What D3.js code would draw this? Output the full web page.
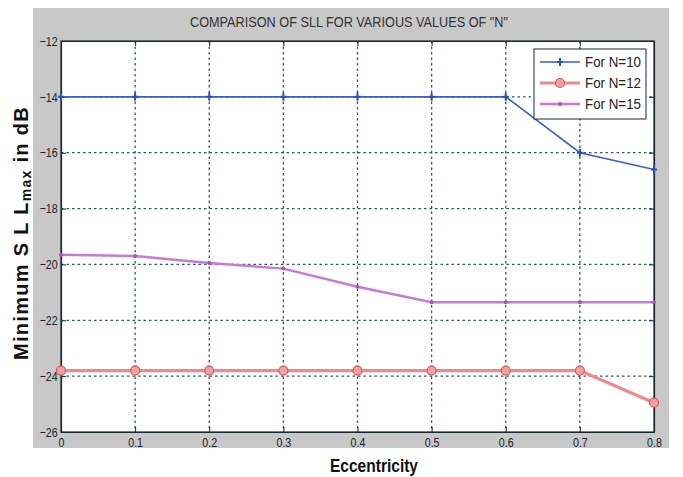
<!DOCTYPE html>
<html>
<head>
<meta charset="utf-8">
<script src="https://cdn.jsdelivr.net/npm/d3@7"></script>
<style>
  html, body { margin: 0; padding: 0; background: #fff; }
  svg { display: block; }
  .narrow { font-family: "Liberation Sans", Arial, sans-serif; }
</style>
</head>
<body>
<svg id="chart" width="683" height="477"></svg>
<script>
// Eccentricity values along the x axis
const eccentricity = [0, 0.1, 0.2, 0.3, 0.4, 0.5, 0.6, 0.7, 0.8];
// Minimum SLL_max (dB) for each array size
const sllN10 = [-14, -14, -14, -14, -14, -14, -14, -16, -16.6];
const sllN12 = [-23.8, -23.8, -23.8, -23.8, -23.8, -23.8, -23.8, -23.8, -24.95];
const sllN15 = [-19.65, -19.7, -19.95, -20.15, -20.8, -21.35, -21.35, -21.35, -21.35];
// Tick labels
const xTicks = [0, 0.1, 0.2, 0.3, 0.4, 0.5, 0.6, 0.7, 0.8];
const yTicks = [-12, -14, -16, -18, -20, -22, -24, -26];
const legendLabels = ["For N=10", "For N=12", "For N=15"];

const svg = d3.select("#chart");

// grey figure panel
svg.append("rect").attr("x", 33).attr("y", 8).attr("width", 636).attr("height", 440).attr("fill", "#c8c8c8");

const plotL = 61, plotR = 654, plotT = 41, plotB = 432;
const x = d3.scaleLinear().domain([0, 0.8]).range([plotL, plotR]);
const y = d3.scaleLinear().domain([-26, -12]).range([plotB, plotT]);

// white plot area
svg.append("rect").attr("x", plotL).attr("y", plotT).attr("width", plotR - plotL).attr("height", plotB - plotT).attr("fill", "#fff");

// dotted grid
const grid = svg.append("g").attr("stroke", "#2d5966").attr("stroke-width", 1.3).attr("stroke-dasharray", "2.5,3");
grid.selectAll(".gx").data(xTicks.slice(1, -1)).join("line")
  .attr("x1", d => x(d)).attr("x2", d => x(d)).attr("y1", plotT).attr("y2", plotB);
grid.selectAll(".gy").data(yTicks.slice(1, -1)).join("line")
  .attr("x1", plotL).attr("x2", plotR).attr("y1", d => y(d)).attr("y2", d => y(d));

// axes with inward ticks
const fmtX = d => d === 0 ? "0" : d3.format(".1f")(d);
const xAxisB = svg.append("g").attr("transform", `translate(0,${plotB})`)
  .call(d3.axisBottom(x).tickValues(xTicks).tickFormat(fmtX).tickSizeInner(-5).tickSizeOuter(0).tickPadding(6));
const xAxisT = svg.append("g").attr("transform", `translate(0,${plotT})`)
  .call(d3.axisTop(x).tickValues(xTicks).tickFormat("").tickSizeInner(-5).tickSizeOuter(0));
const yAxisL = svg.append("g").attr("transform", `translate(${plotL},0)`)
  .call(d3.axisLeft(y).tickValues(yTicks).tickSizeInner(-5).tickSizeOuter(0).tickPadding(4));
const yAxisR = svg.append("g").attr("transform", `translate(${plotR},0)`)
  .call(d3.axisRight(y).tickValues(yTicks).tickFormat("").tickSizeInner(-5).tickSizeOuter(0));
[xAxisB, xAxisT, yAxisL, yAxisR].forEach(a => {
  a.selectAll("path").attr("stroke", "#1a2a30").attr("stroke-width", 1.2);
  a.selectAll("line").attr("stroke", "#1a2a30");
  a.selectAll("text").attr("class", "narrow").attr("font-size", 13).attr("fill", "#222");
});
// condensed tick lettering
xAxisB.selectAll("text").attr("transform", "scale(0.82,1)");
yAxisL.selectAll("text").attr("transform", "scale(0.82,1)");

// plot border
svg.append("rect").attr("x", plotL).attr("y", plotT).attr("width", plotR - plotL).attr("height", plotB - plotT)
  .attr("fill", "none").attr("stroke", "#1a2a30").attr("stroke-width", 1.2);

const line = d3.line().x(d => x(d[0])).y(d => y(d[1]));
const series = [
  { name: legendLabels[0], values: sllN10, color: "#3a5fcd", width: 1.7, marker: "plus" },
  { name: legendLabels[1], values: sllN12, color: "#f08a8a", width: 3.2, marker: "circle" },
  { name: legendLabels[2], values: sllN15, color: "#c878d8", width: 2.5, marker: "dot" }
];

function drawMarker(g, kind, cx, cy) {
  if (kind === "plus") {
    g.append("path").attr("d", `M${cx - 3},${cy}H${cx + 3}M${cx},${cy - 4}V${cy + 4}`)
      .attr("stroke", "#2a4fc0").attr("stroke-width", 2);
  } else if (kind === "circle") {
    g.append("circle").attr("cx", cx).attr("cy", cy).attr("r", 4.5)
      .attr("fill", "#f4a0a0").attr("stroke", "#d85a5a").attr("stroke-width", 1.2);
  } else {
    g.append("circle").attr("cx", cx).attr("cy", cy).attr("r", 2).attr("fill", "#b050c0");
  }
}

series.forEach(s => {
  const pts = eccentricity.map((e, i) => [e, s.values[i]]);
  svg.append("path").datum(pts).attr("d", line).attr("fill", "none")
    .attr("stroke", s.color).attr("stroke-width", s.width);
  const g = svg.append("g");
  pts.forEach(p => drawMarker(g, s.marker, x(p[0]), y(p[1])));
});

// legend
const lg = svg.append("g").attr("transform", "translate(534,49)");
lg.append("rect").attr("width", 112).attr("height", 70).attr("fill", "#fff")
  .attr("stroke", "#1a2a30").attr("stroke-width", 1);
series.forEach((s, i) => {
  const cy = 13 + i * 21;
  lg.append("line").attr("x1", 6).attr("x2", 46).attr("y1", cy).attr("y2", cy)
    .attr("stroke", s.color).attr("stroke-width", s.width);
  drawMarker(lg, s.marker, 26, cy);
  lg.append("text").attr("class", "narrow").attr("x", 51).attr("y", cy + 5)
    .attr("font-size", 14).attr("fill", "#222")
    .attr("textLength", 56).attr("lengthAdjust", "spacingAndGlyphs").text(s.name);
});

// title
svg.append("text").attr("class", "narrow").attr("x", 190).attr("y", 27)
  .attr("font-size", 14).attr("fill", "#333")
  .attr("textLength", 318).attr("lengthAdjust", "spacingAndGlyphs")
  .text('COMPARISON OF SLL FOR VARIOUS VALUES OF "N"');

// x label
svg.append("text").attr("x", 330).attr("y", 472)
  .attr("font-family", "Liberation Sans, Arial, sans-serif").attr("font-weight", "bold")
  .attr("font-size", 18).attr("fill", "#111")
  .attr("textLength", 88).attr("lengthAdjust", "spacingAndGlyphs").text("Eccentricity");

// y label
const yl = svg.append("text").attr("transform", "translate(28,233) rotate(-90)").attr("text-anchor", "middle")
  .attr("font-family", "Liberation Sans, Arial, sans-serif").attr("font-weight", "bold")
  .attr("font-size", 20).attr("letter-spacing", 1.3).attr("fill", "#111");
yl.append("tspan").text("Minimum S L L");
yl.append("tspan").attr("font-size", 14).attr("dy", 3).text("max");
yl.append("tspan").attr("dy", -3).text("  in dB");
</script>
</body>
</html>
